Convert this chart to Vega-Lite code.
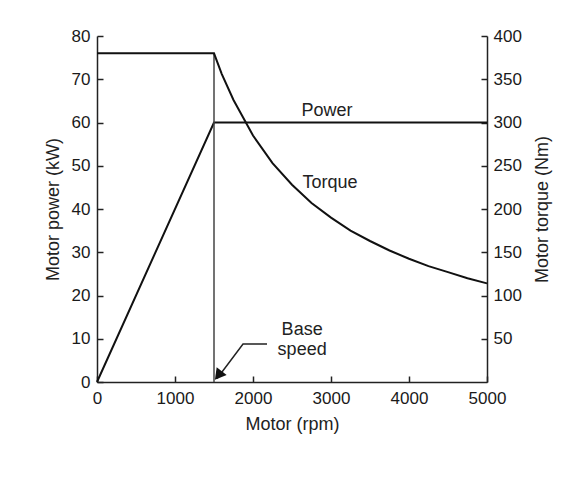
{
  "$schema": "https://vega.github.io/schema/vega-lite/v6.json",
  "width": 390,
  "height": 346,
  "autosize": "none",
  "padding": {"left": 97, "top": 36, "right": 82, "bottom": 104},
  "background": "white",
  "config": {
    "view": {"stroke": null},
    "font": "Liberation Sans",
    "axis": {
      "grid": false,
      "domainColor": "#222",
      "domainWidth": 1.5,
      "tickColor": "#222",
      "tickWidth": 1.5,
      "tickSize": -6,
      "labelFont": "Liberation Sans",
      "labelFontSize": 17,
      "labelColor": "#1a1a1a",
      "labelFlush": false,
      "labelOverlap": false,
      "titleFont": "Liberation Sans",
      "titleFontSize": 18,
      "titleFontWeight": "normal",
      "titleColor": "#222"
    }
  },
  "datasets": {
    "power": [
      {"rpm": 0, "kw": 0},
      {"rpm": 1500, "kw": 60},
      {"rpm": 5000, "kw": 60}
    ],
    "base": [
      {"rpm": 1500, "kw": 0, "kw2": 76}
    ],
    "labels": [
      {"rpm": 2949, "kw": 62.7, "text": "Power"},
      {"rpm": 2987, "kw": 46.0, "text": "Torque"},
      {"rpm": 2630, "kw": 12.0, "text": "Base"},
      {"rpm": 2630, "kw": 7.4, "text": "speed"}
    ],
    "arrow": [
      {"rpm": 2180, "kw": 8.8, "o": 1},
      {"rpm": 1872, "kw": 8.8, "o": 2},
      {"rpm": 1540, "kw": 0.8, "o": 3}
    ],
    "head": [
      {"rpm": 1555, "kw": 1.5}
    ],
    "torque": [
      {"rpm": 0, "nm": 380},
      {"rpm": 1500, "nm": 380},
      {"rpm": 1600, "nm": 356},
      {"rpm": 1750, "nm": 326},
      {"rpm": 2000, "nm": 285},
      {"rpm": 2250, "nm": 253},
      {"rpm": 2500, "nm": 228},
      {"rpm": 2750, "nm": 207},
      {"rpm": 3000, "nm": 190},
      {"rpm": 3250, "nm": 175},
      {"rpm": 3500, "nm": 163},
      {"rpm": 3750, "nm": 152},
      {"rpm": 4000, "nm": 142.5},
      {"rpm": 4250, "nm": 134},
      {"rpm": 4500, "nm": 127},
      {"rpm": 4750, "nm": 120},
      {"rpm": 5000, "nm": 114}
    ]
  },
  "layer": [
    {
      "encoding": {
        "x": {
          "field": "rpm", "type": "quantitative",
          "scale": {"domain": [0, 5000], "nice": false},
          "axis": {"title": "Motor (rpm)", "format": "d", "values": [0, 1000, 2000, 3000, 4000, 5000], "labelPadding": 14, "titlePadding": 9}
        },
        "y": {
          "field": "kw", "type": "quantitative",
          "scale": {"domain": [0, 80], "nice": false},
          "axis": {"title": "Motor power (kW)", "orient": "left", "format": "d", "values": [0, 10, 20, 30, 40, 50, 60, 70, 80], "labelPadding": 13, "titleAngle": 270, "titleX": -44, "titleY": 173, "titleAlign": "center", "titleBaseline": "middle"}
        }
      },
      "layer": [
        {
          "data": {"name": "power"},
          "mark": {"type": "line", "color": "#111", "strokeWidth": 2}
        },
        {
          "data": {"name": "base"},
          "mark": {"type": "rule", "color": "#444", "strokeWidth": 1.5},
          "encoding": {"y2": {"field": "kw2"}}
        },
        {
          "data": {"name": "arrow"},
          "mark": {"type": "line", "color": "#222", "strokeWidth": 1.5},
          "encoding": {"order": {"field": "o"}}
        },
        {
          "data": {"name": "head"},
          "mark": {"type": "point", "shape": "triangle-up", "filled": true, "color": "#111", "size": 160, "angle": 218, "opacity": 1}
        },
        {
          "data": {"name": "labels"},
          "mark": {"type": "text", "fontSize": 18, "color": "#222", "align": "center", "baseline": "middle", "font": "Liberation Sans"},
          "encoding": {"text": {"field": "text"}}
        }
      ]
    },
    {
      "data": {"name": "torque"},
      "mark": {"type": "line", "color": "#111", "strokeWidth": 2},
      "encoding": {
        "x": {"field": "rpm", "type": "quantitative", "scale": {"domain": [0, 5000], "nice": false}},
        "y": {
          "field": "nm", "type": "quantitative",
          "scale": {"domain": [0, 400], "nice": false},
          "axis": {"title": "Motor torque (Nm)", "orient": "right", "format": "d", "values": [50, 100, 150, 200, 250, 300, 350, 400], "labelPadding": 12, "titleAngle": 270, "titleX": 55, "titleY": 173, "titleAlign": "center", "titleBaseline": "middle"}
        }
      }
    }
  ],
  "resolve": {"scale": {"y": "independent"}}
}
